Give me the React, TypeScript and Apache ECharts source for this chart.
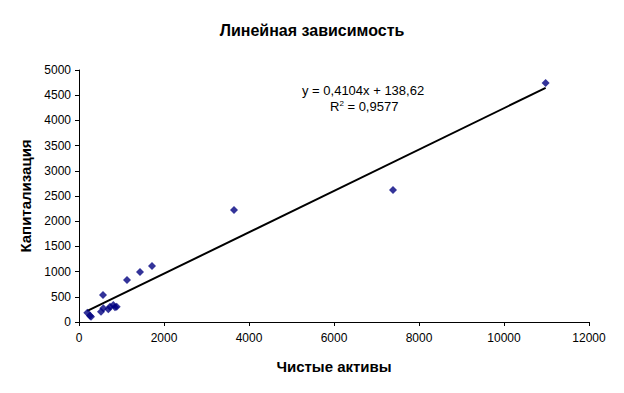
import React, { useEffect, useRef } from "react";
import * as echarts from "echarts";

const title = "Линейная зависимость";
const xName = "Чистые активы";
const yName = "Капитализация";

const assets = [196, 259, 282, 518, 572, 565, 689, 729, 807, 847, 887, 1129, 1435, 1718, 3647, 7388, 10980];
const capital = [185, 125, 105, 205, 272, 536, 252, 304, 337, 291, 304, 833, 992, 1111, 2222, 2619, 4742];

const slope = 0.4104;
const intercept = 138.62;
const equationText = "y = 0,4104x + 138,62";
const r2Value = "0,9577";

export default function App() {
  const ref = useRef<HTMLDivElement>(null);
  useEffect(() => {
    if (!ref.current) return;
    const chart = echarts.init(ref.current, null, { renderer: "svg" });
    const points = assets.map((x, i) => [x, capital[i]]);
    const xMin = Math.min(...assets);
    const xMax = Math.max(...assets);
    const trend = [xMin, xMax].map((x) => [x, slope * x + intercept]);
    const font = "Arial, 'Liberation Sans', sans-serif";
    chart.setOption({
      animation: false,
      backgroundColor: "#ffffff",
      title: {
        text: title,
        left: "center",
        top: 17,
        textStyle: { fontFamily: font, fontSize: 16, fontWeight: "bold", color: "#000" },
      },
      grid: { left: 79, right: 35, top: 70, bottom: 71 },
      xAxis: {
        type: "value",
        min: 0,
        max: 12000,
        interval: 2000,
        name: xName,
        nameLocation: "middle",
        nameGap: 37,
        nameTextStyle: { fontFamily: font, fontSize: 15, fontWeight: "bold", color: "#000" },
        axisLine: { lineStyle: { color: "#000", width: 1 } },
        axisTick: { show: true, length: 4, lineStyle: { color: "#000" } },
        axisLabel: { fontFamily: font, fontSize: 12, color: "#000", margin: 10, formatter: (v: number) => String(v) },
        splitLine: { show: false },
      },
      yAxis: {
        type: "value",
        min: 0,
        max: 5000,
        interval: 500,
        name: yName,
        nameLocation: "middle",
        nameGap: 44,
        nameRotate: 90,
        nameTextStyle: { fontFamily: font, fontSize: 15, fontWeight: "bold", color: "#000" },
        axisLine: { show: true, lineStyle: { color: "#000", width: 1 } },
        axisTick: { show: true, length: 4, lineStyle: { color: "#000" } },
        axisLabel: { fontFamily: font, fontSize: 12, color: "#000", margin: 8, formatter: (v: number) => String(v) },
        splitLine: { show: false },
      },
      series: [
        {
          type: "line",
          data: trend,
          symbol: "none",
          lineStyle: { color: "#000", width: 2 },
          z: 1,
        },
        {
          type: "scatter",
          data: points,
          symbol: "diamond",
          symbolSize: 8,
          itemStyle: { color: "#000080" },
          z: 2,
        },
      ],
      graphic: [
        {
          type: "text",
          left: 302,
          top: 84,
          style: {
            text: equationText,
            fontFamily: font,
            fontSize: 13,
            fill: "#000",
          },
        },
        {
          type: "text",
          left: 330,
          top: 99,
          style: {
            text: "R{sup|2} = " + r2Value,
            fontFamily: font,
            fontSize: 13,
            fill: "#000",
            rich: {
              sup: { fontSize: 8, verticalAlign: "top", padding: [0, 0, 6, 0], fontFamily: font },
            },
          },
        },
      ],
    });
    return () => chart.dispose();
  }, []);
  return (
    <div
      ref={ref}
      style={{ position: "fixed", left: 0, top: 0, width: 624, height: 393, background: "#fff" }}
    />
  );
}
